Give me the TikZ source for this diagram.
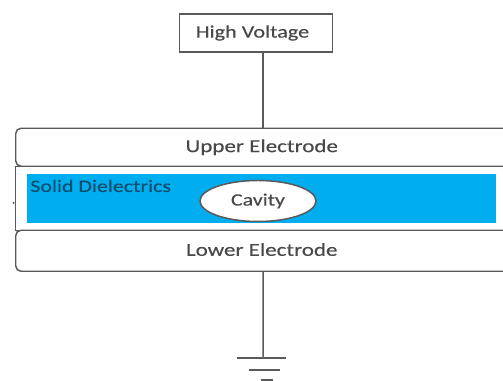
\documentclass[tikz,border=0pt]{standalone}
\usepackage{fontspec}
\setmainfont{Carlito}
\newfontfamily\widefont[FakeStretch=1.26,FakeBold=0.35]{Carlito}
\usetikzlibrary{positioning,calc,shapes.geometric}
\definecolor{dielblue}{HTML}{00ADEF}
\definecolor{wiregray}{HTML}{5A5A5A}
\definecolor{labelgray}{HTML}{484848}
\definecolor{dielink}{HTML}{0A4F6E}
\tikzset{
  wire/.style={draw=wiregray,line width=0.85pt},
  electrode/.style={wire,fill=white,rounded corners=3pt,minimum width=9.90cm,minimum height=#1 cm,
    anchor=south west,inner sep=0pt,text=labelgray,font=\widefont\fontsize{10.4}{12}\selectfont},
}
\begin{document}
\begin{tikzpicture}
  \useasboundingbox[clip] (0,0) rectangle (10.06,7.62);
  \fill[white] (0,0) rectangle (10.06,7.62);
  % layers
  \node[wire,minimum width=9.90cm,minimum height=1.28cm,anchor=south west,inner sep=0pt] (gap) at (0.30,3.00) {};
  \node[fill=dielblue,minimum width=9.38cm,minimum height=0.98cm,anchor=south west,inner sep=0pt] (diel) at (0.54,3.16) {};
  \node[electrode=0.76] (upper) at (0.30,4.28) {\raisebox{-0.08cm}{Upper Electrode}\hspace*{0.06cm}};
  \node[electrode=0.82] (lower) at (0.30,2.18) {\raisebox{0.05cm}{Lower Electrode}\hspace*{0.06cm}};
  \node[anchor=north west,inner sep=0pt,text=dielink,font=\widefont\fontsize{9.9}{11}\selectfont] (dieltxt) at (0.60,4.03) {Solid Dielectrics};
  \node[ellipse,wire,fill=white,minimum width=2.32cm,minimum height=0.82cm,inner sep=0pt,text=labelgray,
        font=\widefont\fontsize{9.9}{11}\selectfont] (cavity) at (5.16,3.60) {Cavity};
  \fill[wiregray] (0.27,3.56) circle (0.7pt);
  % source and ground
  \node[wire,fill=white,minimum width=3.06cm,minimum height=0.76cm,inner sep=0pt,text=labelgray,
        font=\widefont\fontsize{10}{12}\selectfont] (hv) at (5.12,6.96) {High Voltage\hspace*{0.14cm}};
  \coordinate (gnd) at (5.26,0.46);
  \draw[wire] (hv.south -| upper.north) -- (upper.north);
  \draw[wire] (lower.south) -- (gnd);
  \foreach \dy/\l/\r in {0/-0.52/0.46, 0.24/-0.28/0.34, 0.44/-0.04/0.20} {
    \draw[wire] ($(gnd)+(\l,-\dy)$) -- ($(gnd)+(\r,-\dy)$);
  }
\end{tikzpicture}
\end{document}
